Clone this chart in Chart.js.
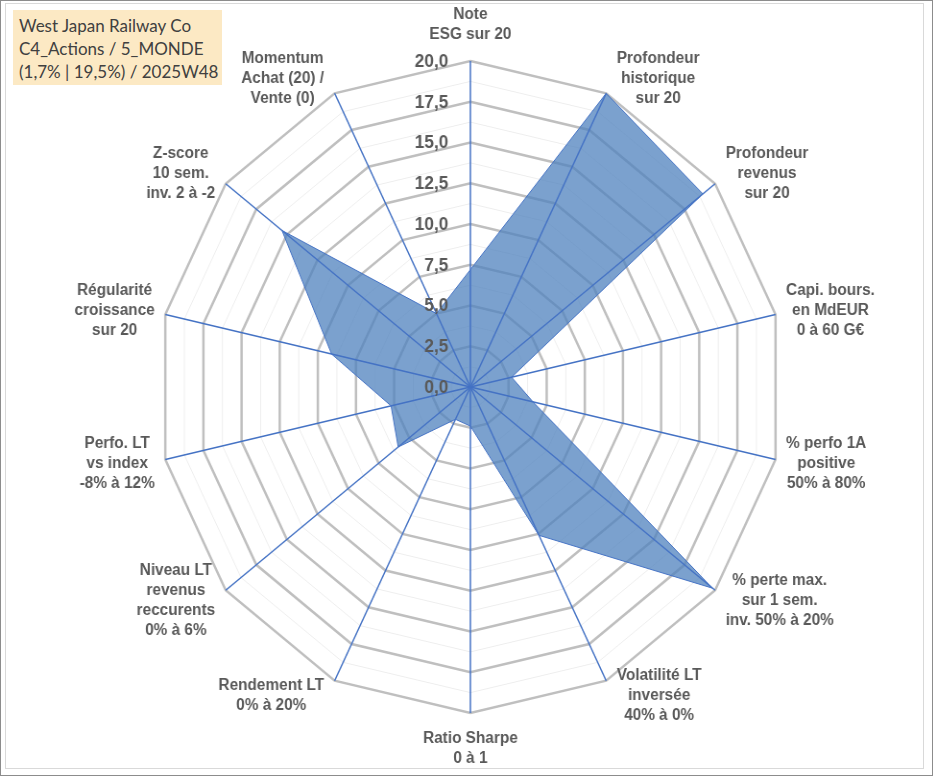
<!DOCTYPE html>
<html>
<head>
<meta charset="utf-8">
<script src="https://cdn.jsdelivr.net/npm/chart.js@4"></script>
<style>
  html, body { margin:0; padding:0; background:#fff; }
  #frame { position:absolute; left:0; top:0; width:933px; height:776px; box-sizing:border-box; border:1px solid #8c8c8c; }
  #inner { position:absolute; left:5px; top:3px; width:919px; height:766px; box-sizing:border-box; border:1px solid #d9d9d9; }
  #wrap { position:absolute; left:0; top:0; width:972px; height:776px; transform:scaleX(0.96); transform-origin:0 0; }
  #title { position:absolute; left:13px; top:10px; width:209px; height:75px; background:#fce9c4;
           font-family:Lato, "Open Sans", sans-serif; font-size:17px; line-height:23px; color:#404040;
           padding:4px 0 0 6px; box-sizing:border-box; white-space:nowrap; }
</style>
</head>
<body>
<div id="frame"></div>
<div id="inner"></div>
<div id="wrap"><canvas id="radar"></canvas></div>
<div id="title">West Japan Railway Co<br>C4_Actions / 5_MONDE<br>(1,7% | 19,5%) / 2025W48</div>
<script>
// axes, clockwise from the top
const axisLabels = [
  ["Note", "ESG sur 20"],
  ["Profondeur", "historique", "sur 20"],
  ["Profondeur", "revenus", "sur 20"],
  ["Capi. bours.", "en MdEUR", "0 à 60 G€"],
  ["% perfo 1A", "positive", "50% à 80%"],
  ["% perte max.", "sur 1 sem.", "inv. 50% à 20%"],
  ["Volatilité LT", "inversée", "40% à 0%"],
  ["Ratio Sharpe", "0 à 1"],
  ["Rendement LT", "0% à 20%"],
  ["Niveau LT", "revenus", "reccurents", "0% à 6%"],
  ["Perfo. LT", "vs index", "-8% à 12%"],
  ["Régularité", "croissance", "sur 20"],
  ["Z-score", "10 sem.", "inv. 2 à -2"],
  ["Momentum", "Achat (20) /", "Vente (0)"]
];
const scores = [7.2, 20, 19.0, 2.7, 4.1, 19.8, 10.1, 2.4, 2.2, 5.9, 5.2, 9.1, 15.4, 5.0];
const tickValues = [0, 2.5, 5, 7.5, 10, 12.5, 15, 17.5, 20];
const tickLabels = ["0,0", "2,5", "5,0", "7,5", "10,0", "12,5", "15,0", "17,5", "20,0"];

const BLUE = "#4472C4";
const TXT = "#595959";

// axis lines, tick labels and point labels drawn over the filled area
const overlay = {
  id: "overlay",
  afterDatasetsDraw(chart){
    const s = chart.scales.r;
    const ctx = chart.ctx;
    const n = axisLabels.length;
    ctx.save();

    ctx.strokeStyle = BLUE;
    ctx.lineWidth = 1.5;
    for(let i=0;i<n;i++){
      const p = s.getPointPosition(i, s.drawingArea);
      ctx.beginPath();
      ctx.moveTo(s.xCenter, s.yCenter);
      ctx.lineTo(p.x, p.y);
      ctx.stroke();
    }

    ctx.fillStyle = TXT;
    ctx.font = "bold 18px 'Liberation Sans', Arial, sans-serif";
    ctx.textAlign = "right";
    ctx.textBaseline = "middle";
    tickValues.forEach((v, k) => {
      const y = s.yCenter - s.getDistanceFromCenterForValue(v);
      ctx.fillText(tickLabels[k], s.xCenter - 23, y + 1);
    });

    ctx.font = "bold 16px 'Liberation Sans', Arial, sans-serif";
    ctx.textAlign = "center";
    const lh = 20;
    for(let i=0;i<n;i++){
      const a = i * 2 * Math.PI / n;
      const sin = Math.sin(a), cos = Math.cos(a);
      const p = s.getPointPosition(i, s.drawingArea);
      const lines = axisLabels[i];
      const h = lines.length * lh;
      const w = Math.max(...lines.map(t => ctx.measureText(t).width));
      let cx, cy;
      if(Math.abs(sin) < 0.01){
        cx = p.x;
        cy = cos > 0 ? p.y - 16 - h/2 : p.y + 16 + h/2;
      } else {
        const sg = sin > 0 ? 1 : -1;
        cx = p.x + sg * (11 + w/2);
        cy = p.y - cos * 16;
      }
      lines.forEach((t, k) => ctx.fillText(t, cx, cy - h/2 + lh/2 + k*lh));
    }
    ctx.restore();
  }
};

new Chart(document.getElementById("radar"), {
  type: "radar",
  data: {
    labels: axisLabels,
    datasets: [{
      data: scores,
      backgroundColor: "rgba(79,129,189,0.75)",
      borderColor: BLUE,
      borderWidth: 1,
      pointRadius: 0,
      fill: true
    }]
  },
  options: {
    responsive: true,
    maintainAspectRatio: false,
    animation: false,
    layout: { padding: { left:163, right:155, top:61, bottom:63 } },
    plugins: { legend:{display:false}, tooltip:{enabled:false} },
    scales: {
      r: {
        min: 0, max: 20,
        ticks: { stepSize: 1.25, display: false },
        pointLabels: { display: false },
        angleLines: { display: false },
        grid: {
          circular: false,
          color: c => (c.index % 2 === 0 ? "#bfbfbf" : "#eeeeee"),
          lineWidth: c => (c.index % 2 === 0 ? 2.5 : 1)
        }
      }
    }
  },
  plugins: [overlay]
});
</script>
</body>
</html>
